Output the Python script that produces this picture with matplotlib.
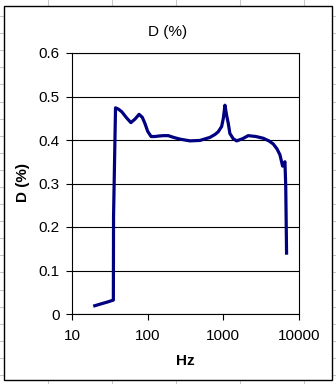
import matplotlib.pyplot as plt
from matplotlib.lines import Line2D
from matplotlib.patches import Rectangle

# frequency (Hz) and distortion D (%)
freq = [20, 25, 30, 35.2, 35.4, 37.6, 41, 45.4, 52, 60, 68, 77, 85, 92, 100,
        111, 125, 138, 160, 187, 220, 267, 362, 491, 665, 780, 857, 950, 1000,
        1050, 1110, 1163, 1220, 1350, 1500, 1800, 2130, 2700, 3370, 4000,
        4560, 5100, 5600, 6070, 6520, 6680, 6850]
dist = [0.019, 0.024, 0.028, 0.032, 0.223, 0.474, 0.471, 0.465, 0.452, 0.44,
        0.448, 0.459, 0.452, 0.438, 0.42, 0.408, 0.408, 0.409, 0.41, 0.41,
        0.406, 0.402, 0.398, 0.399, 0.406, 0.413, 0.419, 0.431, 0.45, 0.48,
        0.455, 0.438, 0.415, 0.403, 0.398, 0.403, 0.41, 0.408, 0.404, 0.398,
        0.391, 0.38, 0.366, 0.34, 0.35, 0.293, 0.14]

yticks = [0, 0.1, 0.2, 0.3, 0.4, 0.5, 0.6]
xticks = [10, 100, 1000, 10000]
xlabels = ['10', '100', '1000', '10000']

W, H = 336, 384
plt.rcParams['font.family'] = ['Liberation Sans', 'DejaVu Sans']
fig = plt.figure(figsize=(W / 100, H / 100), dpi=100)
fig.patch.set_facecolor('white')

def fx(px):
    return px / W

def fy(py):
    return 1 - py / H

# spreadsheet cell lines behind the chart
for x in [48, 112, 176, 240, 304]:
    fig.add_artist(Line2D([fx(x), fx(x)], [0, 1], color='#c8c8c8', lw=0.75, zorder=0))
y = 16
while y < H:
    fig.add_artist(Line2D([0, 1], [fy(y), fy(y)], color='#c8c8c8', lw=0.75, zorder=0))
    y += 17.1

# chart area
fig.add_artist(Rectangle((fx(4), fy(380)), fx(332) - fx(4), fy(6) - fy(380),
                         facecolor='white', edgecolor='black', lw=1.0, zorder=1))

ax = fig.add_axes([fx(72), fy(314), fx(299) - fx(72), fy(53) - fy(314)])
ax.set_zorder(2)
ax.set_facecolor('white')
ax.plot(freq, dist, color='#000080', lw=2.3, solid_joinstyle='round', zorder=3)

ax.set_xscale('log')
ax.set_xlim(10, 10000)
ax.set_ylim(0, 0.6)
ax.set_xticks(xticks)
ax.set_xticklabels(xlabels)
ax.minorticks_off()
ax.set_yticks(yticks)
ax.set_yticklabels(['0', '0.1', '0.2', '0.3', '0.4', '0.5', '0.6'])
ax.yaxis.grid(True, color='black', lw=0.8)
ax.set_axisbelow(True)
for s in ax.spines.values():
    s.set_color('black')
    s.set_linewidth(0.8)
ax.tick_params(axis='both', length=4, width=0.8, color='black', labelsize=11,
               direction='out', top=False, right=False)
ax.tick_params(axis='x', pad=7)
ax.tick_params(axis='y', pad=5)

fig.text(fx(168), fy(32), 'D (%)', ha='center', va='center', fontsize=11)
fig.text(fx(185.5), fy(361), 'Hz', ha='center', va='center', fontsize=11, fontweight='bold')
fig.text(fx(23), fy(183), 'D (%)', ha='center', va='center', fontsize=11,
         fontweight='bold', rotation=90)

fig.savefig('out.png', dpi=100, facecolor='white')
